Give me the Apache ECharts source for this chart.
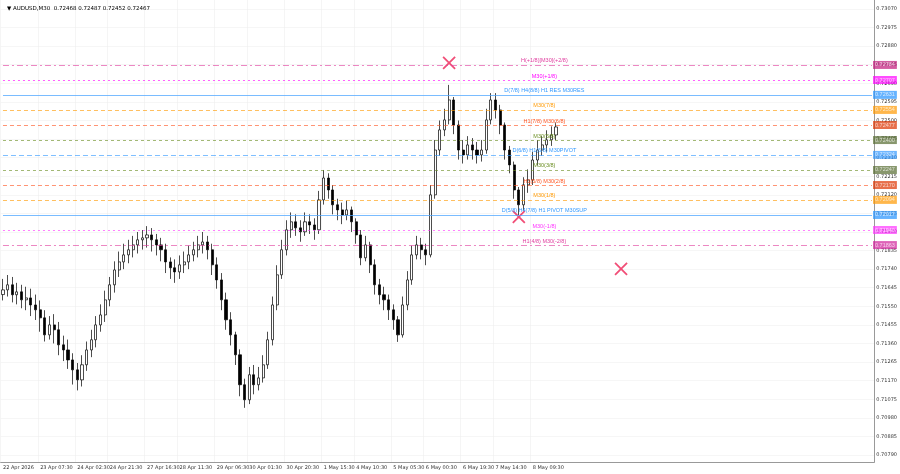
<!DOCTYPE html>
<html>
<head>
<meta charset="utf-8">
<script src="https://cdn.jsdelivr.net/npm/echarts@6/dist/echarts.min.js"></script>
<style>html,body{margin:0;padding:0;background:#fff}#c{width:900px;height:474px}</style>
</head>
<body>
<div id="c"></div>
<script>
// 收盘价 / 最高价 / 最低价 (points, x1e-5)
const closes = [71634,71660,71609,71624,71583,71593,71557,71532,71491,71404,71455,71430,71353,71327,71276,71225,71174,71251,71327,71379,
  71455,71506,71583,71660,71736,71777,71813,71839,71864,71890,71900,71915,71890,71864,71839,71777,71747,71726,71762,71777,
  71813,71839,71864,71879,71839,71762,71685,71583,71481,71404,71302,71149,71072,71200,71149,71184,71251,71379,71557,71711,
  71839,71941,71982,71951,71931,71982,71966,71941,72094,72206,72145,72069,72043,72017,72043,71982,71915,71798,71864,71762,
  71660,71609,71583,71532,71481,71404,71557,71685,71813,71864,71839,71813,72120,72349,72452,72503,72605,72477,72349,72324,
  72375,72349,72324,72349,72503,72605,72554,72477,72349,72273,72145,72069,72171,72196,72298,72349,72375,72401,72426,72467];
const highs = [71690,71710,71700,71670,71660,71650,71640,71610,71580,71530,71500,71510,71470,71400,71380,71310,71260,71300,71370,71430,
  71500,71560,71630,71700,71780,71830,71870,71890,71910,71930,71940,71960,71950,71920,71900,71870,71800,71790,71810,71830,
  71860,71880,71910,71930,71910,71870,71800,71720,71620,71520,71420,71330,71180,71240,71250,71240,71300,71420,71600,71760,
  71890,71990,72030,72020,71990,72030,72020,72000,72140,72247,72230,72170,72100,72080,72090,72060,72000,71940,71910,71880,
  71790,71690,71650,71610,71560,71500,71600,71730,71860,71910,71900,71870,72170,72400,72500,72560,72682,72620,72500,72400,
  72420,72410,72390,72400,72560,72640,72640,72580,72490,72370,72290,72160,72210,72250,72340,72400,72420,72450,72470,72490];
const lows = [71580,71600,71570,71560,71540,71530,71500,71480,71420,71370,71380,71360,71300,71270,71230,71150,71120,71140,71220,71290,
  71340,71420,71470,71550,71620,71700,71740,71770,71800,71820,71840,71850,71830,71810,71780,71720,71690,71670,71690,71720,
  71740,71780,71800,71820,71790,71710,71640,71530,71430,71350,71250,71090,71031,71050,71100,71120,71160,71230,71350,71530,
  71690,71810,71900,71910,71880,71910,71920,71890,71920,72070,72100,72020,71990,71970,71990,71930,71870,71760,71780,71720,
  71610,71560,71530,71480,71430,71368,71390,71530,71660,71790,71790,71760,71800,72100,72320,72420,72480,72430,72300,72280,
  72300,72300,72280,72290,72330,72480,72510,72430,72300,72230,72100,72017,72040,72130,72170,72270,72320,72340,72370,72400];
const firstOpen = 71610;

// 时间轴标签 (bar index -> text)
const timeLabels = {0:'22 Apr 2026',8:'23 Apr 07:30',16:'24 Apr 02:30',23:'24 Apr 21:30',31:'27 Apr 16:30',38:'28 Apr 11:30',
  46:'29 Apr 06:30',53:'30 Apr 01:30',61:'30 Apr 20:30',69:'1 May 15:30',76:'4 May 10:30',84:'5 May 05:30',
  91:'6 May 00:30',99:'6 May 19:30',106:'7 May 14:30',114:'8 May 09:30'};
const totalBars = 188;

// 价格轴刻度
const priceTicks = [0.70790,0.70885,0.70980,0.71075,0.71170,0.71265,0.71360,0.71455,0.71550,0.71645,0.71740,0.71835,
  0.71930,0.72025,0.72120,0.72215,0.72310,0.72405,0.72500,0.72595,0.72690,0.72785,0.72880,0.72975,0.73070];

// 水平位 [价格, 文本, 颜色, 标签底色, 线型]
const levels = [
  [0.72784, 'H(+1/8)[M30](+2/8)', '#e040a0', '#c2187a', [6,3,2,3]],
  [0.72707, 'M30(+1/8)', '#ff00ff', '#ff00ff', [2,3]],
  [0.72631, 'D(7/8) H4(8/8) H1 RES M30RES', '#3399ff', '#3399ff', 'solid'],
  [0.72554, 'M30(7/8)', '#ff9900', '#ff9900', [4,3]],
  [0.72477, 'H1(7/8) M30(6/8)', '#ff5522', '#dd3300', [4,3]],
  [0.72400, 'M30(5/8)', '#6b8e23', '#556b2f', [3,3]],
  [0.72324, 'D(6/8) H1(6/8) M30PIVOT', '#3399ff', '#3399ff', [5,3]],
  [0.72247, 'M30(3/8)', '#6b8e23', '#556b2f', [3,3]],
  [0.72170, 'H1(5/8) M30(2/8)', '#ff5522', '#dd3300', [4,3]],
  [0.72094, 'M30(1/8)', '#ff9900', '#ff9900', [4,3]],
  [0.72017, 'D(5/8) H4(7/8) H1 PIVOT M30SUP', '#3399ff', '#3399ff', 'solid'],
  [0.71940, 'M30(-1/8)', '#ff33ff', '#ff33ff', [2,3]],
  [0.71863, 'H1(4/8) M30(-2/8)', '#e040a0', '#d0209a', [6,3,2,3]]
];

// 十字标记 [bar, 价格]
const crosses = [[96, 0.72794], [111, 0.72007], [133, 0.71741]];

const cats = [], ohlc = [];
for (let i = 0; i < totalBars; i++) {
  cats.push(timeLabels[i] || '');
  if (i < closes.length) {
    const o = i === 0 ? firstOpen : closes[i - 1];
    ohlc.push([o / 1e5, closes[i] / 1e5, lows[i] / 1e5, highs[i] / 1e5]);
  } else ohlc.push('-');
}

const lineData = [], labelData = [];
levels.forEach(l => {
  const solid = l[4] === 'solid';
  const ls = {color: solid ? '#4da6ff' : l[2], type: l[4], width: solid ? 1.2 : 0.9, opacity: solid ? 0.75 : 0.7};
  lineData.push([
    {coord: [0, l[0]], lineStyle: ls,
     label: {show: true, position: 'end', formatter: l[0].toFixed(5), backgroundColor: l[3], color: '#fff', fontSize: 5.5, padding: [1, 2], distance: 1}},
    {coord: [totalBars - 1, l[0]], lineStyle: ls}
  ]);
  labelData.push([
    {coord: [100, l[0]], label: {show: true, position: 'middle', formatter: l[1], color: l[2], fontSize: 5.5, distance: 1}},
    {coord: [133, l[0]]}
  ]);
});

const chart = echarts.init(document.getElementById('c'));
chart.setOption({
  animation: false,
  backgroundColor: '#fff',
  title: {text: '▼ AUDUSD,M30  0.72468 0.72487 0.72452 0.72467', left: 2, top: 1,
    textStyle: {fontSize: 5.5, fontWeight: 'normal', color: '#000', fontFamily: 'DejaVu Sans'}},
  grid: {left: 0, right: 20, top: 0, bottom: 12},
  xAxis: {
    type: 'category', data: cats, boundaryGap: true,
    axisLine: {lineStyle: {color: '#999'}}, axisTick: {show: false},
    axisLabel: {interval: 0, fontSize: 5, color: '#333', align: 'left', margin: 3, fontFamily: 'DejaVu Sans'},
    splitLine: {show: true, interval: (i, v) => v !== '', lineStyle: {color: '#eee', width: 0.6}}
  },
  yAxis: {
    type: 'value', position: 'right', min: 0.70754, max: 0.73116,
    axisLine: {show: true, lineStyle: {color: '#999'}},
    axisTick: {show: false, customValues: priceTicks},
    axisLabel: {fontSize: 5, color: '#333', margin: 2, formatter: v => v.toFixed(5), fontFamily: 'DejaVu Sans', customValues: priceTicks},
    splitLine: {show: true, lineStyle: {color: '#f0f0f0', width: 0.6}}
  },
  series: [
    {
      type: 'scatter', data: crosses, symbol: 'none', z: 2,
      markLine: {symbol: 'none', silent: true, data: lineData}
    },
    {
      type: 'scatter', data: crosses, symbol: 'none', z: 2,
      markLine: {symbol: 'none', silent: true, lineStyle: {width: 0, color: 'transparent'}, data: labelData}
    },
    {
      type: 'candlestick', data: ohlc, barWidth: 2.6, z: 3,
      itemStyle: {color: '#ffffff', color0: '#000000', borderColor: '#000000', borderColor0: '#000000', borderWidth: 0.7}
    },
    {
      type: 'scatter', data: crosses, symbol: 'path://M0,0L10,10M10,0L0,10', symbolSize: 12, z: 4,
      itemStyle: {color: 'none', borderColor: '#ee2255', borderWidth: 1.8}
    }
  ]
});
</script>
</body>
</html>
